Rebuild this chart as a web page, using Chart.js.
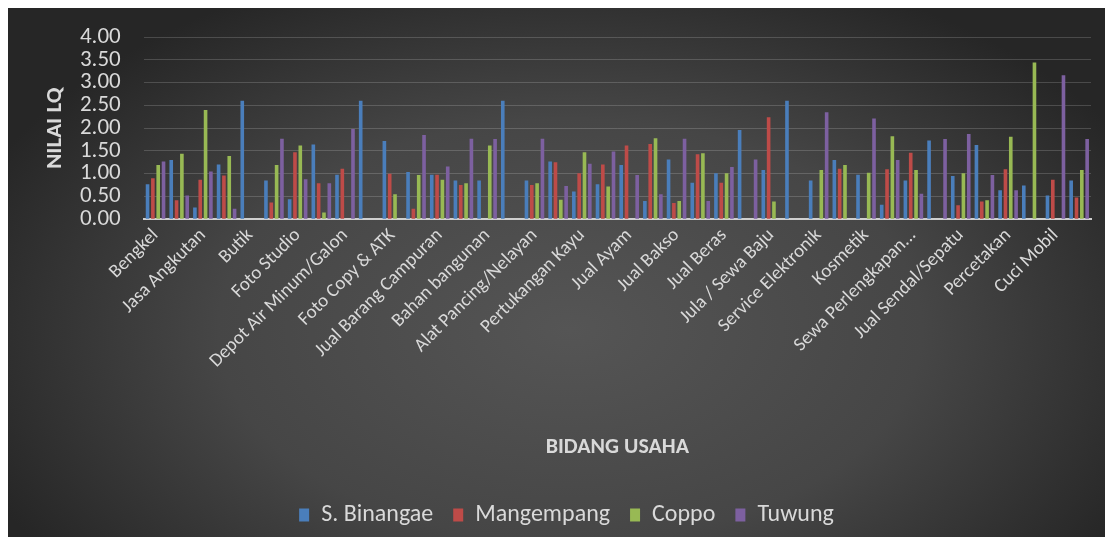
<!DOCTYPE html>
<html><head><meta charset="utf-8">
<script src="https://cdn.jsdelivr.net/npm/chart.js@4.4.1/dist/chart.umd.min.js"></script>
<style>html,body{margin:0;padding:0;background:#fff;overflow:hidden;} canvas{display:block;}</style>
</head><body>
<canvas id="c" width="1113" height="546"></canvas>
<script>
// 40 categories; only every other name is printed on the axis (unreadable ones left blank)
const categories = [
  'Bengkel','', 'Jasa Angkutan','', 'Butik','', 'Foto Studio','', 'Depot Air Minum/Galon','',
  'Foto Copy & ATK','', 'Jual Barang Campuran','', 'Bahan bangunan','', 'Alat Pancing/Nelayan','',
  'Pertukangan Kayu','', 'Jual Ayam','', 'Jual Bakso','', 'Jual Beras','', 'Jula / Sewa Baju','',
  'Service Elektronik','', 'Kosmetik','', 'Sewa Perlengkapan...','', 'Jual Sendal/Sepatu','',
  'Percetakan','', 'Cuci Mobil',''
];
const sBinangae = [0.77,1.30,0.26,1.20,2.60,0.85,0.44,1.64,0.98,2.60,1.72,1.04,0.98,0.85,0.85,2.60,0.85,1.27,0.61,0.77,
                   1.19,0.40,1.31,0.80,1.01,1.96,1.08,2.60,0.85,1.30,0.98,0.32,0.85,1.73,0.95,1.63,0.64,0.74,0.52,0.85];
const mangempang = [0.90,0.42,0.87,0.96,0,0.37,1.47,0.79,1.11,0,1.00,0.23,0.98,0.75,0,0,0.75,1.25,1.01,1.20,
                    1.62,1.65,0.36,1.43,0.80,0,2.24,0,0,1.11,0,1.10,1.46,0,0.31,0.39,1.10,0,0.87,0.48];
const coppo = [1.19,1.44,2.40,1.39,0,1.19,1.62,0.15,0,0,0.55,0.97,0.87,0.79,1.62,0,0.79,0.43,1.47,0.72,
               0,1.78,0.40,1.45,1.01,0,0.39,0,1.08,1.19,1.02,1.82,1.08,0,1.01,0.42,1.81,3.44,0,1.08];
const tuwung = [1.27,0.52,1.05,0.23,0,1.77,0.88,0.79,1.98,0,0,1.85,1.16,1.77,1.76,0,1.77,0.73,1.22,1.49,
                0.97,0.55,1.77,0.40,1.15,1.31,0,0,2.35,0,2.21,1.30,0.56,1.76,1.87,0.97,0.64,0,3.16,1.76];
const seriesNames = ['S. Binangae','Mangempang','Coppo','Tuwung'];
const yTickLabels = ['0.00','0.50','1.00','1.50','2.00','2.50','3.00','3.50','4.00'];

const F = "Carlito, Lato, 'Liberation Sans', sans-serif";
const TXT = '#d9d9d9';

const bgPlugin = {
  id: 'bg',
  beforeDraw(chart) {
    const ctx = chart.ctx;
    ctx.save();
    ctx.fillStyle = '#ffffff';
    ctx.fillRect(0, 0, chart.width, chart.height);
    ctx.beginPath();
    ctx.rect(8, 8, 1097, 529);
    ctx.clip();
    ctx.translate(570, 330);
    ctx.scale(1, 0.6);
    const g = ctx.createRadialGradient(0, 0, 0, 0, 0, 640);
    g.addColorStop(0, '#555555');
    g.addColorStop(0.55, '#464646');
    g.addColorStop(1, '#262626');
    ctx.fillStyle = g;
    ctx.fillRect(-800, -1200, 1600, 2400);
    ctx.restore();
  }
};

// shift the legend row a little right so it sits where the original one is
const legendShift = {
  id: 'legendShift',
  afterLayout(chart) {
    if (chart.legend) { chart.legend.left += 11; chart.legend.right += 11; }
  }
};

const colors = ['#4a7ebb', '#be4b48', '#98b954', '#7d60a0'];
const values = [sBinangae, mangempang, coppo, tuwung];

new Chart(document.getElementById('c'), {
  type: 'bar',
  data: {
    labels: categories,
    datasets: seriesNames.map((n, i) => ({
      label: n,
      data: values[i],
      backgroundColor: colors[i],
      borderWidth: 0,
      barPercentage: 0.68,
      categoryPercentage: 0.9
    }))
  },
  options: {
    responsive: false,
    animation: false,
    devicePixelRatio: 1,
    layout: { padding: { left: 20, right: 22, top: 37, bottom: 9 } },
    plugins: {
      legend: {
        position: 'bottom',
        labels: { color: TXT, font: { size: 24, family: F }, boxWidth: 10, boxHeight: 13, padding: 20 }
      },
      tooltip: { enabled: false }
    },
    scales: {
      x: {
        grid: { display: false, drawTicks: false },
        border: { color: '#cfcfcf', width: 2 },
        ticks: { color: TXT, font: { size: 19, family: F }, minRotation: 45, maxRotation: 45, autoSkip: false, padding: 5 },
        title: { display: true, text: 'BIDANG USAHA', color: TXT, font: { size: 22, weight: 'bold', family: F }, padding: { top: 0, bottom: 22.8 } },
        afterFit(s) { s.height = 263.7; }
      },
      y: {
        min: 0, max: 4,
        ticks: { stepSize: 0.5, autoSkip: false, color: TXT, font: { size: 23, family: F }, padding: 23,
                 callback: (v, i) => yTickLabels[i] },
        grid: { color: 'rgba(255,255,255,0.17)', drawTicks: false },
        border: { display: false },
        title: { display: true, text: 'NILAI LQ', color: TXT, font: { size: 23, weight: 'bold', family: F }, padding: { top: 21, bottom: 0 } },
        afterFit(s) { s.width = 123.7; }
      }
    }
  },
  plugins: [bgPlugin, legendShift]
});
</script>
</body></html>
